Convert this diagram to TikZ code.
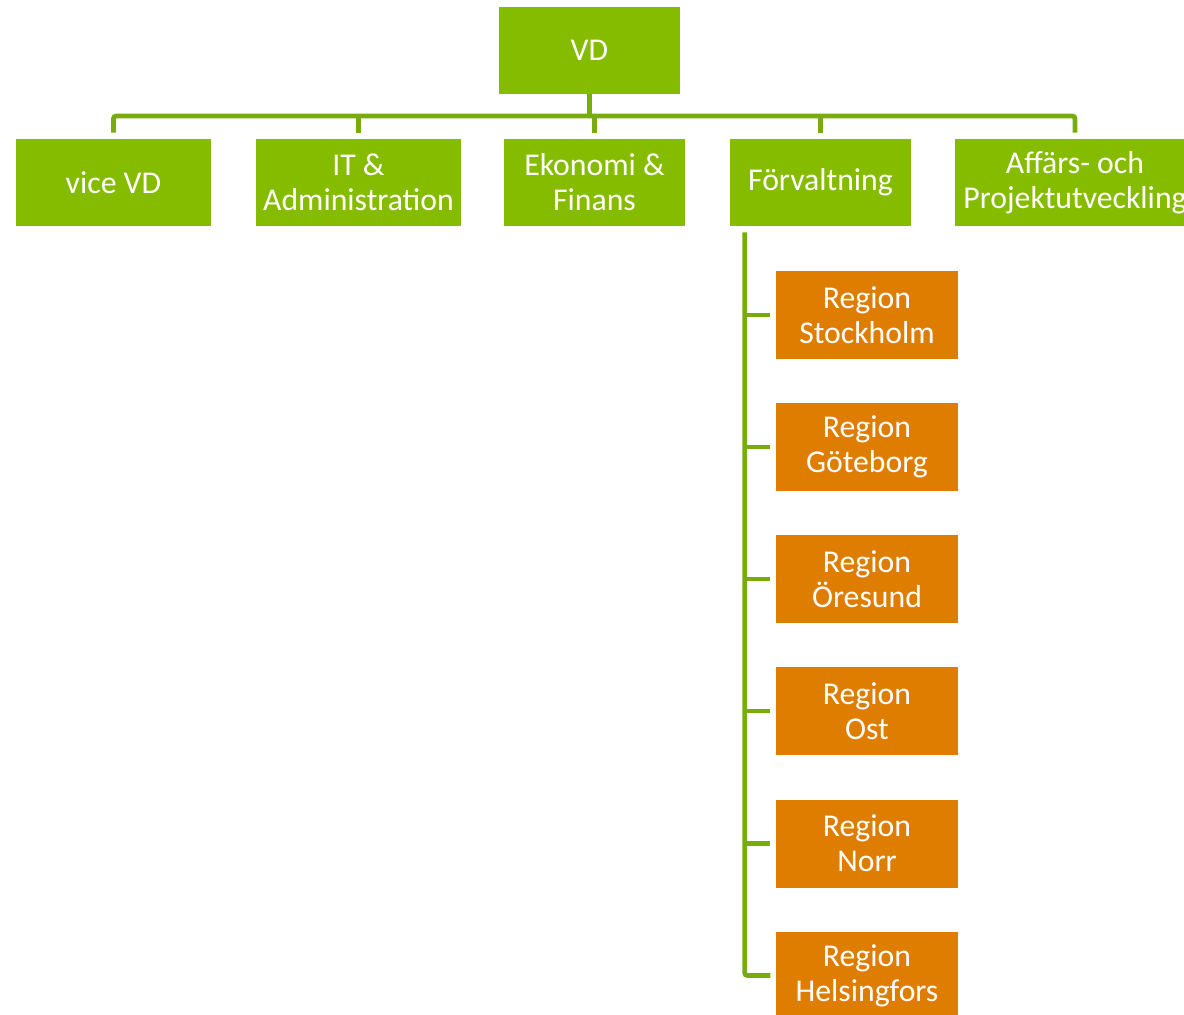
\documentclass[tikz,border=0pt]{standalone}
\usepackage{fontspec}
\setmainfont{Carlito}
\definecolor{boxgreen}{HTML}{86BC00}
\definecolor{linegreen}{HTML}{77AC0C}
\definecolor{boxorange}{HTML}{DF7D00}
\begin{document}
\begin{tikzpicture}[x=0.75pt,y=-0.75pt,
  base/.style={draw=none,text=white,align=center,inner sep=0pt,
    font=\fontsize{23.8}{26.25}\selectfont},
  gbox/.style={base,fill=boxgreen,minimum height=65.25pt},
  obox/.style={base,fill=boxorange,minimum width=136.5pt,minimum height=66pt},
  conn/.style={draw=linegreen,line width=3.6pt,rounded corners=2pt}]
\useasboundingbox (0,0) rectangle (1184,1014);
\clip (0,0) rectangle (1184,1014);
% top
\node[gbox,minimum width=135.75pt] (vd) at (589.5,50.5) {VD};
\node[gbox,minimum width=146.25pt] (vice) at (113.5,182.5) {vice VD};
\node[gbox,minimum width=153.75pt] (it) at (358.5,182.5) {IT \&\\Administration};
\node[gbox,minimum width=135.75pt] (eko) at (594.5,182.5) {Ekonomi \&\\Finans};
\node[gbox,minimum width=135.75pt] (forv) at (820.5,182.5) {Förvaltning};
\node[gbox,minimum width=180pt] (aff) at (1075,182.5) {Affärs- och\\Projektutveckling};
% regions
\node[obox] (sto) at (867,315) {Region\\Stockholm};
\node[obox] (gbg) at (867,447) {Region\\Göteborg};
\node[obox] (ore) at (867,579) {Region\\Öresund};
\node[obox] (ost) at (867,711) {Region\\Ost};
\node[obox] (nor) at (867,843.5) {Region\\Norr};
\node[obox] (hel) at (867,975.5) {Region\\Helsingfors};
% bus
\coordinate (bus) at (589.5,116);
\draw[conn] (vd.south) -- (bus);
\draw[conn] ([yshift=4.5pt]vice.north) |- (bus) -| ([yshift=4.5pt]aff.north);
\draw[conn] ([yshift=4.5pt]it.north) -- (it.north |- bus);
\draw[conn] ([yshift=4.5pt]eko.north) -- (eko.north |- bus);
\draw[conn] ([yshift=4.5pt]forv.north) -- (forv.north |- bus);
% spine
\coordinate (sp) at ([xshift=11.25pt,yshift=-4.5pt]forv.south west);
\draw[conn] (sp) |- ([xshift=-4pt]hel.west);
\foreach \r in {sto,gbg,ore,ost,nor}
  \draw[conn] (sp |- \r.west) -- ([xshift=-4pt]\r.west);
\end{tikzpicture}
\end{document}
